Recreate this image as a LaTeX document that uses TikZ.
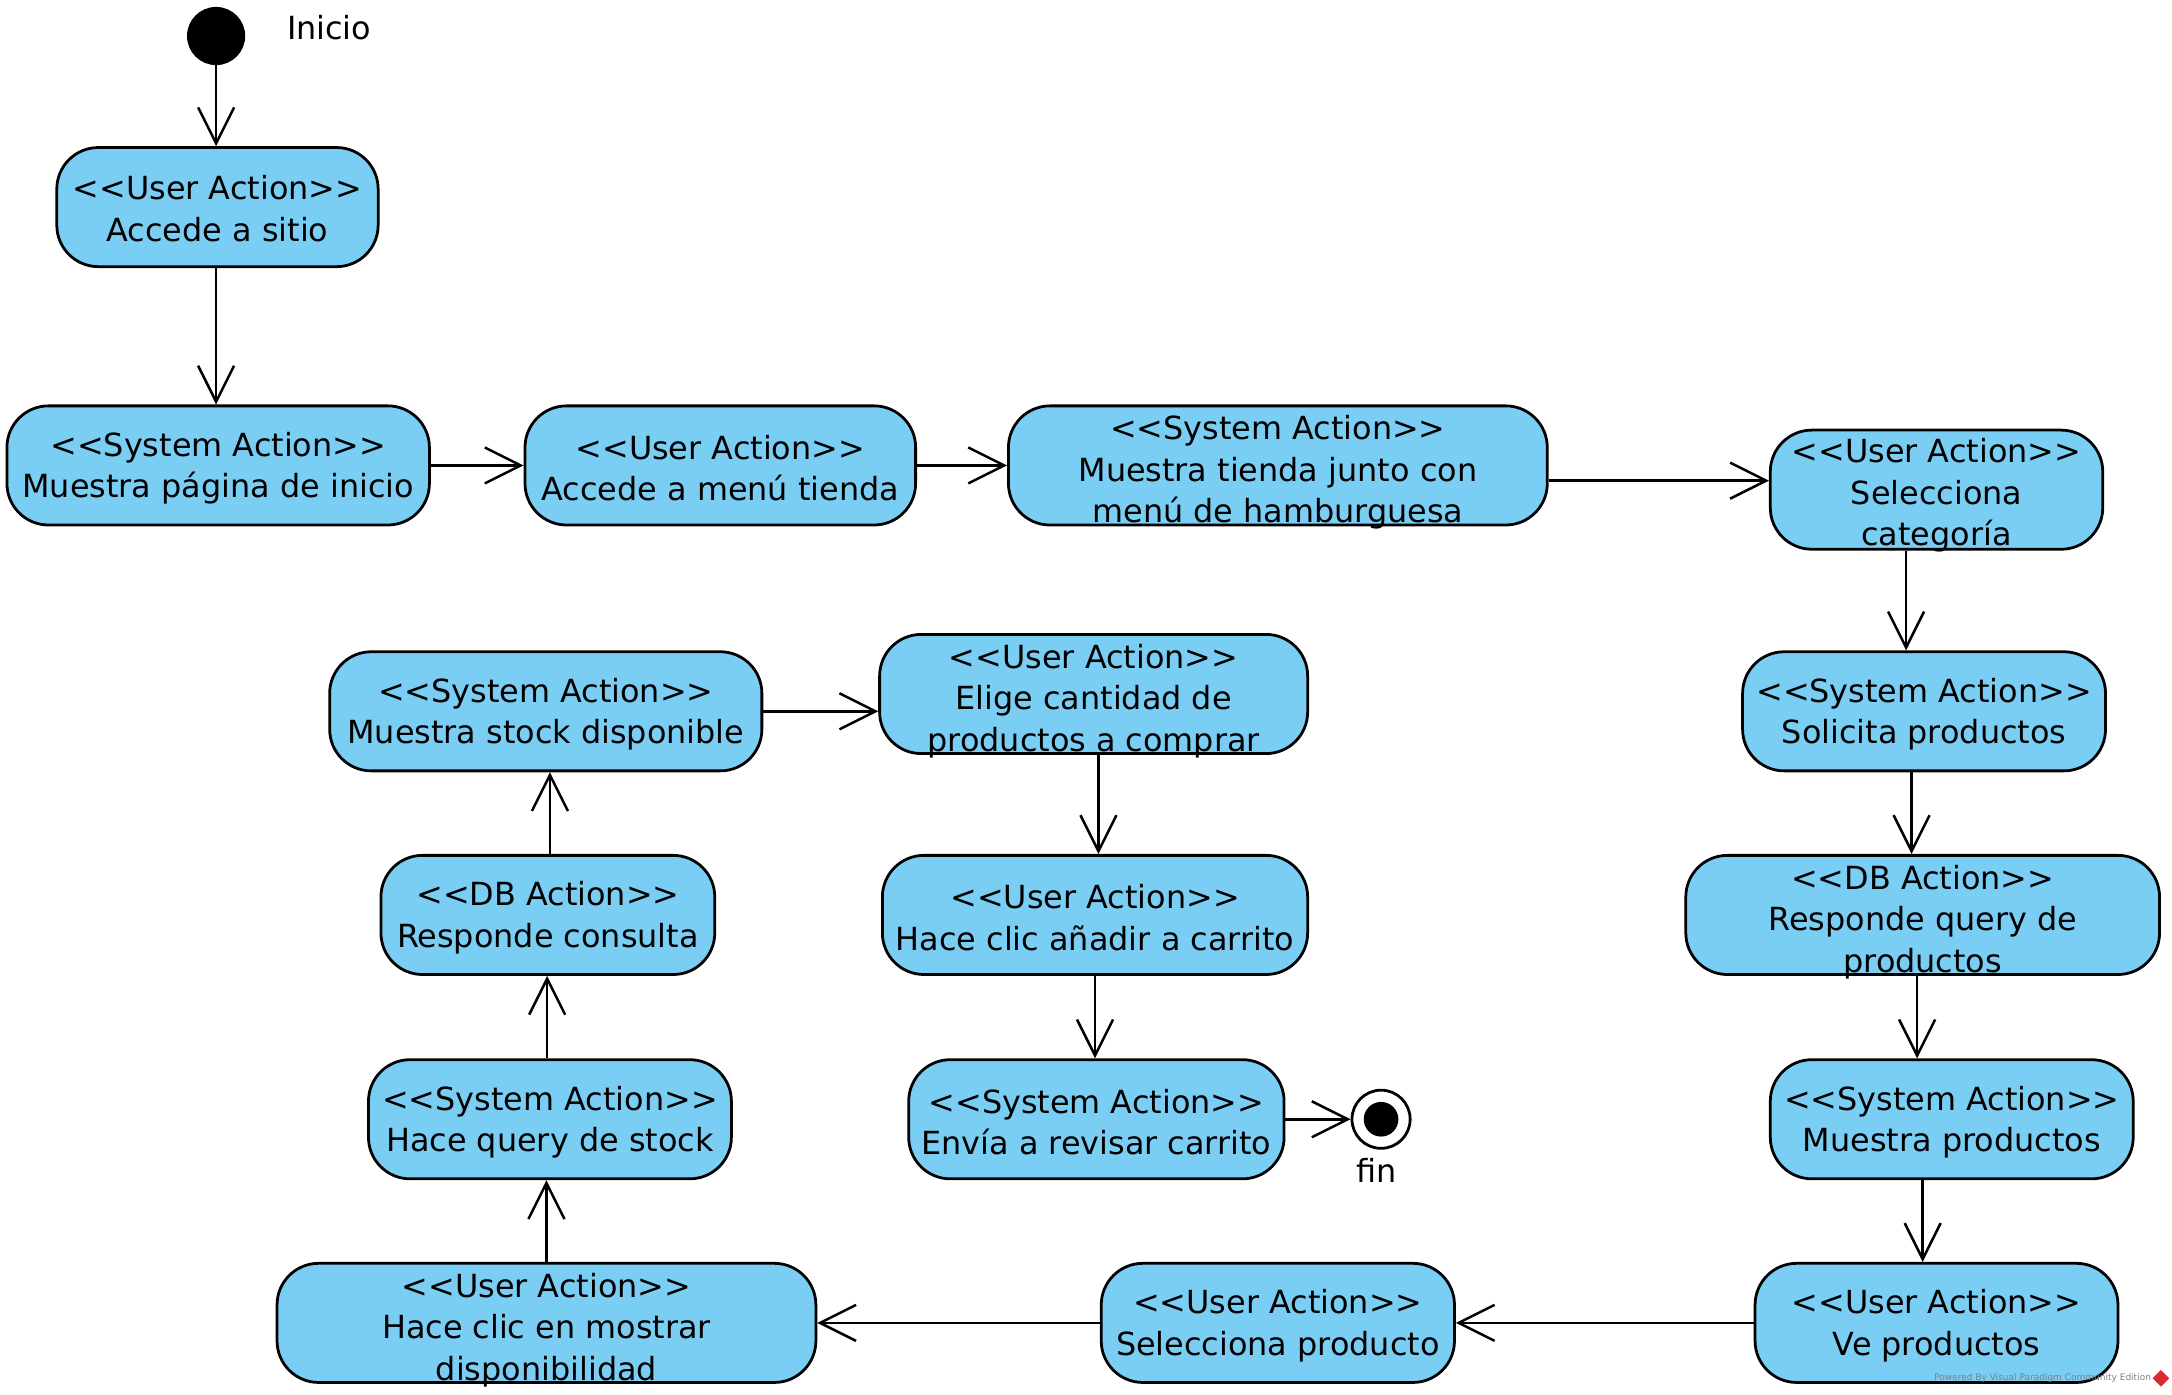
\documentclass[tikz,border=0pt]{standalone}
\usepackage{fontspec}
\setmainfont{DejaVu Sans}[Ligatures=TeXOff]
\usetikzlibrary{arrows.meta}
\definecolor{actfill}{RGB}{122,206,244}
\definecolor{wmgray}{RGB}{128,128,128}
\definecolor{wmred}{RGB}{220,40,50}
\newcommand\actbox[5]{%
  \node[act, minimum width=#3] (#1) at (#2) {};
  \node[acttext] (#1t) at ([yshift=#4]#1.center) {#5};}
\begin{document}
\begin{tikzpicture}[x=1pt,y=-1pt,
  act/.style={draw=black, line width=2pt, fill=actfill, rounded corners=30pt,
    minimum height=86pt, inner sep=0pt},
  acttext/.style={inner sep=0pt, align=center, font=\fontsize{23}{30}\selectfont},
  lbl/.style={inner sep=0pt, font=\fontsize{23}{30}\selectfont},
  arr/.style={line width=1.8pt, -{Straight Barb[length=26pt,width=26pt,line width=1.8pt]}}]
\useasboundingbox (0,0) rectangle (1568,1007);

% start
\node[circle, fill=black, minimum size=42pt, inner sep=0pt] (start) at (156,26) {};
\node[lbl, anchor=west] (inicio) at (207,20) {Inicio};

% actions
\actbox{n1}{157,149.5}{232pt}{-1pt}{<<User Action>>\\Accede a sitio}
\actbox{n2}{157.5,336}{305pt}{-2pt}{<<System Action>>\\Muestra página de inicio}
\actbox{n3}{520,336}{282pt}{-2pt}{<<User Action>>\\Accede a menú tienda}
\actbox{n4}{922.5,336}{389pt}{-5pt}{<<System Action>>\\Muestra tienda junto con\\menú de hamburguesa}
\actbox{n5}{1398,353.5}{240pt}{-4pt}{<<User Action>>\\Selecciona\\categoría}
\actbox{n6}{1389,513.5}{262pt}{-2pt}{<<System Action>>\\Solicita productos}
\actbox{n7}{1388,660.5}{342pt}{-5pt}{<<DB Action>>\\Responde query de\\productos}
\actbox{n8}{1409,808}{262pt}{-2pt}{<<System Action>>\\Muestra productos}
\actbox{n9}{1398,955}{262pt}{-2pt}{<<User Action>>\\Ve productos}
\actbox{n10}{922.5,955}{255pt}{-2pt}{<<User Action>>\\Selecciona producto}
\actbox{n11}{394.5,955}{389pt}{-5pt}{<<User Action>>\\Hace clic en mostrar\\disponibilidad}
\actbox{n12}{397,808}{262pt}{-2pt}{<<System Action>>\\Hace query de stock}
\actbox{n13}{395.5,660.5}{241pt}{-2pt}{<<DB Action>>\\Responde consulta}
\actbox{n14}{394,513.5}{312pt}{-2pt}{<<System Action>>\\Muestra stock disponible}
\actbox{n15}{789.5,501}{309pt}{-5pt}{<<User Action>>\\Elige cantidad de\\productos a comprar}
\actbox{n16}{790.5,660.5}{307pt}{-2pt}{<<User Action>>\\Hace clic añadir a carrito}
\actbox{n17}{791.5,808}{271pt}{-2pt}{<<System Action>>\\Envía a revisar carrito}

% end
\node[circle, draw=black, line width=2pt, fill=white, minimum size=42pt, inner sep=0pt] (fin) at (997,808) {};
\node[circle, fill=black, minimum size=25pt, inner sep=0pt] (finin) at (fin.center) {};
\node[lbl] (finlbl) at (994,845) {f{}in};

% connectors
\draw[arr] (start.south) -- (start.south |- n1.north);
\draw[arr] ([xshift=-1pt]n1.south) -- ([xshift=-1pt]n1.south |- n2.north);
\draw[arr] (n2.east) -- (n3.west);
\draw[arr] (n3.east) -- (n4.west);
\draw[arr] ([yshift=-11pt]n4.east) -- ([yshift=-11pt]n4.east -| n5.west);
\draw[arr] ([xshift=-22pt]n5.south) -- ([xshift=-22pt]n5.south |- n6.north);
\draw[arr] ([xshift=-9pt]n6.south) -- ([xshift=-9pt]n6.south |- n7.north);
\draw[arr] ([xshift=-4pt]n7.south) -- ([xshift=-4pt]n7.south |- n8.north);
\draw[arr] ([xshift=-21pt]n8.south) -- ([xshift=-21pt]n8.south |- n9.north);
\draw[arr] (n9.west) -- (n10.east);
\draw[arr] (n10.west) -- (n11.east);
\draw[arr] (n11.north) -- (n11.north |- n12.south);
\draw[arr] ([xshift=-2pt]n12.north) -- ([xshift=-2pt]n12.north |- n13.south);
\draw[arr] ([xshift=1.5pt]n13.north) -- ([xshift=1.5pt]n13.north |- n14.south);
\draw[arr] (n14.east) -- (n14.east -| n15.west);
\draw[arr] ([xshift=3.5pt]n15.south) -- ([xshift=3.5pt]n15.south |- n16.north);
\draw[arr] (n16.south) -- (n16.south |- n17.north);
\draw[arr] (n17.east) -- (fin.west);

% watermark
\node[anchor=east, inner sep=0pt, text=wmgray, font=\fontsize{6.5}{7}\selectfont] (wm) at (1553,995) {Powered By Visual Paradigm Community Edition};
\fill[wmred] (1560,989) -- (1566,995) -- (1560,1001) -- (1554,995) -- cycle;
\end{tikzpicture}
\end{document}
